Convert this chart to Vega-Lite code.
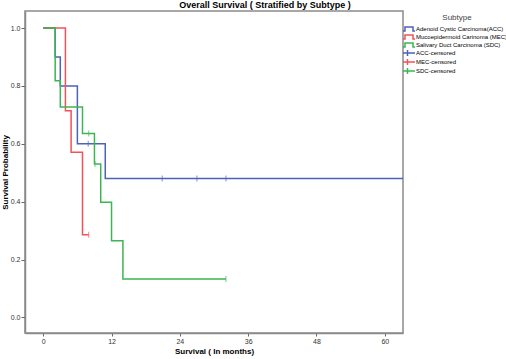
{
  "$schema": "https://vega.github.io/schema/vega-lite/v6.json",
  "width": 378,
  "height": 322,
  "autosize": "none",
  "padding": {"left": 25, "top": 11, "right": 103, "bottom": 26},
  "background": "white",
  "config": {
    "view": {"stroke": "#8a8a8a", "strokeWidth": 1.5},
    "font": "Liberation Sans",
    "legend": {"symbolFillColor": "transparent"}
  },
  "title": {
    "text": "Overall Survival ( Stratified by Subtype )",
    "fontSize": 9,
    "fontWeight": "bold",
    "color": "black",
    "anchor": "middle",
    "dx": 51,
    "offset": 1
  },
  "layer": [
    {
      "data": {
        "values": [
          {"series": "Adenoid Cystic Carcinoma(ACC)", "t": 0, "s": 1.0},
          {"series": "Adenoid Cystic Carcinoma(ACC)", "t": 2.1, "s": 0.9},
          {"series": "Adenoid Cystic Carcinoma(ACC)", "t": 3.0, "s": 0.8},
          {"series": "Adenoid Cystic Carcinoma(ACC)", "t": 6.0, "s": 0.6},
          {"series": "Adenoid Cystic Carcinoma(ACC)", "t": 10.9, "s": 0.48},
          {"series": "Adenoid Cystic Carcinoma(ACC)", "t": 63.2, "s": 0.48},
          {"series": "Mucoepidermoid Carinoma (MEC)", "t": 0, "s": 1.0},
          {"series": "Mucoepidermoid Carinoma (MEC)", "t": 3.9, "s": 0.714},
          {"series": "Mucoepidermoid Carinoma (MEC)", "t": 4.9, "s": 0.571},
          {"series": "Mucoepidermoid Carinoma (MEC)", "t": 6.9, "s": 0.286},
          {"series": "Mucoepidermoid Carinoma (MEC)", "t": 8.0, "s": 0.286},
          {"series": "Salivary Duct Carcinoma (SDC)", "t": 0, "s": 1.0},
          {"series": "Salivary Duct Carcinoma (SDC)", "t": 2.1, "s": 0.818},
          {"series": "Salivary Duct Carcinoma (SDC)", "t": 3.0, "s": 0.727},
          {"series": "Salivary Duct Carcinoma (SDC)", "t": 6.9, "s": 0.636},
          {"series": "Salivary Duct Carcinoma (SDC)", "t": 9.0, "s": 0.53},
          {"series": "Salivary Duct Carcinoma (SDC)", "t": 10.1, "s": 0.398},
          {"series": "Salivary Duct Carcinoma (SDC)", "t": 12.0, "s": 0.265},
          {"series": "Salivary Duct Carcinoma (SDC)", "t": 14.0, "s": 0.133},
          {"series": "Salivary Duct Carcinoma (SDC)", "t": 32.1, "s": 0.133}
        ]
      },
      "mark": {"type": "line", "interpolate": "step-after", "strokeWidth": 1.5},
      "encoding": {
        "x": {
          "field": "t", "type": "quantitative",
          "scale": {"domain": [-3.2, 63.2], "nice": false, "zero": false},
          "axis": {
            "values": [0, 12, 24, 36, 48, 60],
            "title": "Survival ( In months)",
            "titleFontSize": 8, "titleFontWeight": "bold", "titleColor": "black",
            "titlePadding": 3,
            "labelFontSize": 7, "labelColor": "#333", "labelPadding": 1,
            "tickSize": 3, "tickColor": "#666", "domainColor": "#8a8a8a", "domainWidth": 1.5,
            "grid": false
          }
        },
        "y": {
          "field": "s", "type": "quantitative",
          "scale": {"domain": [-0.054, 1.059], "nice": false, "zero": false},
          "axis": {
            "values": [0, 0.2, 0.4, 0.6, 0.8, 1.0],
            "format": ".1f",
            "title": "Survival Probability",
            "titleFontSize": 8, "titleFontWeight": "bold", "titleColor": "black",
            "titlePadding": 1,
            "labelFontSize": 7, "labelColor": "#333", "labelPadding": 1,
            "tickSize": 4, "tickColor": "#666", "domainColor": "#8a8a8a", "domainWidth": 1.5,
            "grid": false
          }
        },
        "color": {
          "field": "series", "type": "nominal",
          "scale": {
            "domain": ["Adenoid Cystic Carcinoma(ACC)", "Mucoepidermoid Carinoma (MEC)", "Salivary Duct Carcinoma (SDC)", "ACC-censored", "MEC-censored", "SDC-censored"],
            "range": ["#4a64b8", "#f25358", "#3cb553", "#4a64b8", "#f25358", "#3cb553"]
          },
          "legend": {
            "title": "Subtype",
            "orient": "none",
            "legendX": 381,
            "legendY": 3,
            "titleFontSize": 8, "titleFontWeight": "normal", "titleColor": "#444",
            "titleAnchor": "middle", "titlePadding": 4,
            "labelFontSize": 6, "labelColor": "black", "labelLimit": 200, "labelOffset": 4,
            "symbolSize": 16, "rowPadding": -3,
            "encode": {
              "symbols": {
                "update": {
                  "shape": {"signal": "indexof(datum.value, '-censored') > 0 ? 'M-3,0L3,0M-0.75,-1.5L-0.75,1.5' : 'M-3,1L-2,1L-2,-1L2,-1L2,1L3,1'"},
                  "fill": {"value": "transparent"},
                  "fillOpacity": {"value": 0},
                  "strokeWidth": {"value": 1.5}
                }
              }
            }
          }
        }
      }
    },
    {
      "data": {
        "values": [
          {"series": "ACC-censored", "t": 7.9, "s": 0.6},
          {"series": "ACC-censored", "t": 20.9, "s": 0.48},
          {"series": "ACC-censored", "t": 27.0, "s": 0.48},
          {"series": "ACC-censored", "t": 32.1, "s": 0.48},
          {"series": "MEC-censored", "t": 8.0, "s": 0.286},
          {"series": "SDC-censored", "t": 8.0, "s": 0.636},
          {"series": "SDC-censored", "t": 9.1, "s": 0.53},
          {"series": "SDC-censored", "t": 32.1, "s": 0.133}
        ]
      },
      "mark": {"type": "tick", "orient": "vertical", "size": 6, "thickness": 1},
      "encoding": {
        "x": {"field": "t", "type": "quantitative"},
        "y": {"field": "s", "type": "quantitative"},
        "color": {"field": "series", "type": "nominal"}
      }
    }
  ]
}
